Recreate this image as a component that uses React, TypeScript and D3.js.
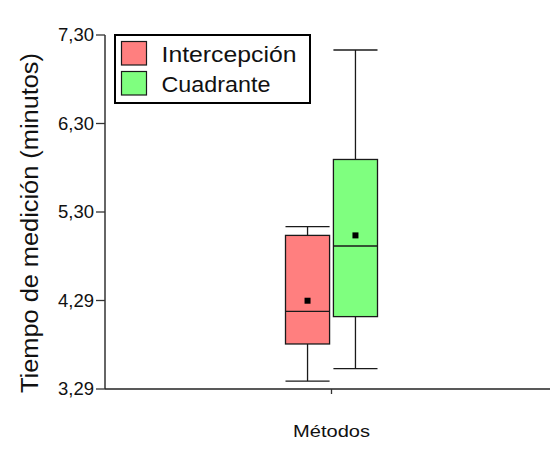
import React from "react";
import * as d3 from "d3";

const categories = ["Métodos"];
const series = ["Intercepción", "Cuadrante"];
const colors = ["#ff7f7f", "#7fff7f"];
const whiskerLow = [3.38, 3.52];
const q1 = [3.80, 4.11];
const median = [4.17, 4.91];
const q3 = [5.03, 5.89];
const whiskerHigh = [5.13, 7.13];
const mean = [4.29, 5.03];
const yTickLabels = ["3,29", "4,29", "5,30", "6,30", "7,30"];
const yMin = 3.29;
const yMax = 7.30;

const W = 550;
const H = 450;
const left = 105;
const right = 558;
const top = 35;
const bottom = 389;

export default function App() {
  const y = d3.scaleLinear().domain([yMin, yMax]).range([bottom, top]);
  const x = d3.scaleBand().domain(categories).range([left, right]);
  const cx = (x(categories[0]) as number) + x.bandwidth() / 2;
  const xs = d3
    .scaleBand()
    .domain(series)
    .range([cx - 46, cx + 46])
    .paddingInner(0.08);
  const tickVals = yTickLabels.map(
    (_, i) => yMin + (i * (yMax - yMin)) / (yTickLabels.length - 1)
  );
  const stroke = "#1a1a1a";

  return (
    <svg
      width={W}
      height={H}
      style={{ position: "absolute", left: 0, top: 0, background: "#fff" }}
      fontFamily="Arial, 'Liberation Sans', sans-serif"
    >
      <rect width={W} height={H} fill="#fff" />
      {series.map((s, i) => {
        const x0 = xs(s) as number;
        const bw = xs.bandwidth();
        const mid = x0 + bw / 2;
        return (
          <g key={s}>
            <line x1={mid} x2={mid} y1={y(whiskerHigh[i])} y2={y(q3[i])} stroke={stroke} strokeWidth={1.3} />
            <line x1={mid} x2={mid} y1={y(q1[i])} y2={y(whiskerLow[i])} stroke={stroke} strokeWidth={1.3} />
            <line x1={x0} x2={x0 + bw} y1={y(whiskerHigh[i])} y2={y(whiskerHigh[i])} stroke={stroke} strokeWidth={1.3} />
            <line x1={x0} x2={x0 + bw} y1={y(whiskerLow[i])} y2={y(whiskerLow[i])} stroke={stroke} strokeWidth={1.3} />
            <rect
              x={x0}
              y={y(q3[i])}
              width={bw}
              height={y(q1[i]) - y(q3[i])}
              fill={colors[i]}
              stroke={stroke}
              strokeWidth={1.3}
            />
            <line x1={x0} x2={x0 + bw} y1={y(median[i])} y2={y(median[i])} stroke={stroke} strokeWidth={1.3} />
            <rect x={mid - 3} y={y(mean[i]) - 3} width={6} height={6} fill="#000" />
          </g>
        );
      })}
      <line x1={left} x2={left} y1={top} y2={bottom} stroke="#333" strokeWidth={1.5} />
      {tickVals.map((v, i) => (
        <g key={i}>
          <line x1={left - 9} x2={left} y1={y(v)} y2={y(v)} stroke="#333" strokeWidth={1.3} />
          <text x={left - 11} y={y(v)} dy="0.35em" textAnchor="end" fontSize={18.5} fill="#111">
            {yTickLabels[i]}
          </text>
        </g>
      ))}
      <line x1={left} x2={right} y1={bottom} y2={bottom} stroke="#222" strokeWidth={1.5} />
      <line x1={cx} x2={cx} y1={bottom} y2={bottom + 5} stroke="#333" strokeWidth={1.3} />
      <text x={cx} y={437} textAnchor="middle" fontSize={17} fill="#111" textLength={77} lengthAdjust="spacingAndGlyphs">
        {categories[0]}
      </text>
      <text
        transform={`translate(38,223) rotate(-90)`}
        textAnchor="middle"
        fontSize={23}
        fill="#111"
        textLength={340}
        lengthAdjust="spacingAndGlyphs"
      >
        Tiempo de medición (minutos)
      </text>
      <rect x={115} y={35} width={195} height={68} fill="#fff" stroke="#000" strokeWidth={2} />
      {series.map((s, i) => (
        <g key={s}>
          <rect x={121.5} y={41.5 + i * 30} width={25} height={23.5} fill={colors[i]} stroke={stroke} strokeWidth={1.2} />
          <text
            x={161.5}
            y={61.5 + i * 30.5}
            fontSize={22}
            fill="#111"
            textLength={i === 0 ? 135 : 109}
            lengthAdjust="spacingAndGlyphs"
          >
            {s}
          </text>
        </g>
      ))}
    </svg>
  );
}
